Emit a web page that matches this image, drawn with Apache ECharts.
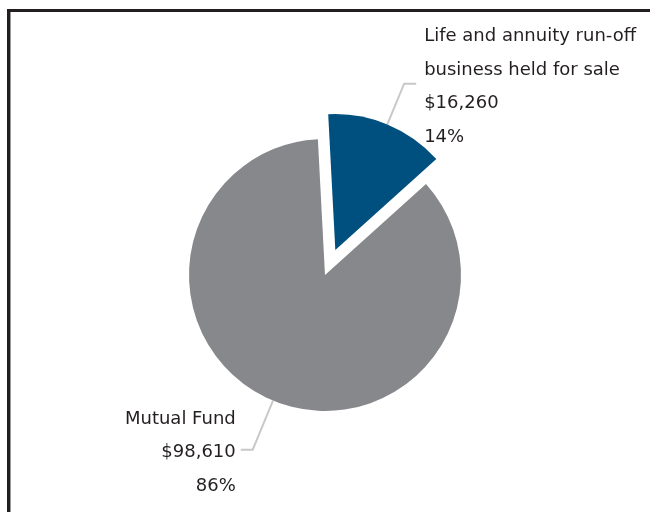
<!DOCTYPE html>
<html>
<head>
<meta charset="utf-8">
<script src="https://cdn.jsdelivr.net/npm/echarts@6/dist/echarts.min.js"></script>
<style>
  html, body { margin: 0; padding: 0; background: #fff; }
  #frame {
    position: absolute; left: 7px; top: 9px; width: 643px; height: 503px;
    border-top: 3px solid #231f20; border-left: 3px solid #231f20;
    box-shadow: inset 1px 0 0 #9a9a9a; box-sizing: border-box;
  }
  #chart { position: absolute; left: 0; top: 0; width: 650px; height: 512px; }
</style>
</head>
<body>
<div id="frame"></div>
<div id="chart"></div>
<script>
// Segment names and amounts ($)
const categories = ['Life and annuity run-off\nbusiness held for sale', 'Mutual Fund'];
const values = [16260, 98610];
const sliceColors = ['#00507f', '#87888c'];

const chart = echarts.init(document.getElementById('chart'));

const data = categories.map((name, i) => ({
  name: name,
  value: values[i],
  selected: i === 0,
  itemStyle: { color: sliceColors[i] },
  label: { distanceToLabelLine: i === 0 ? 8 : 5 },
  labelLine: i === 0 ? { length: 44, length2: 12 } : { length: 53, length2: 12 }
}));

// Name, dollar amount and share, one rich line each; a short spacer line on top
// nudges the block a little below the leader line.
function labelText(p) {
  const lines = p.name.split('\n').concat(['$' + p.value.toLocaleString('en-US'), p.percent + '%']);
  return '{s| }\n' + lines.map(l => '{v|' + l + '}').join('\n');
}

chart.setOption({
  animation: false,
  series: [{
    type: 'pie',
    center: [325, 275],
    radius: 136,
    startAngle: 93,
    clockwise: true,
    selectedMode: 'single',
    selectedOffset: 27,
    percentPrecision: 0,
    avoidLabelOverlap: false,
    emphasis: { disabled: true },
    label: {
      show: true,
      position: 'outside',
      alignTo: 'none',
      color: '#231f20',
      formatter: labelText,
      rich: {
        s: { fontSize: 1, lineHeight: 6 },
        v: { fontFamily: 'DejaVu Sans', fontSize: 18, lineHeight: 33.5, color: '#231f20' }
      }
    },
    labelLine: {
      show: true,
      smooth: false,
      lineStyle: { color: '#c8c8c8', width: 2 }
    },
    data: data
  }]
});
</script>
</body>
</html>
